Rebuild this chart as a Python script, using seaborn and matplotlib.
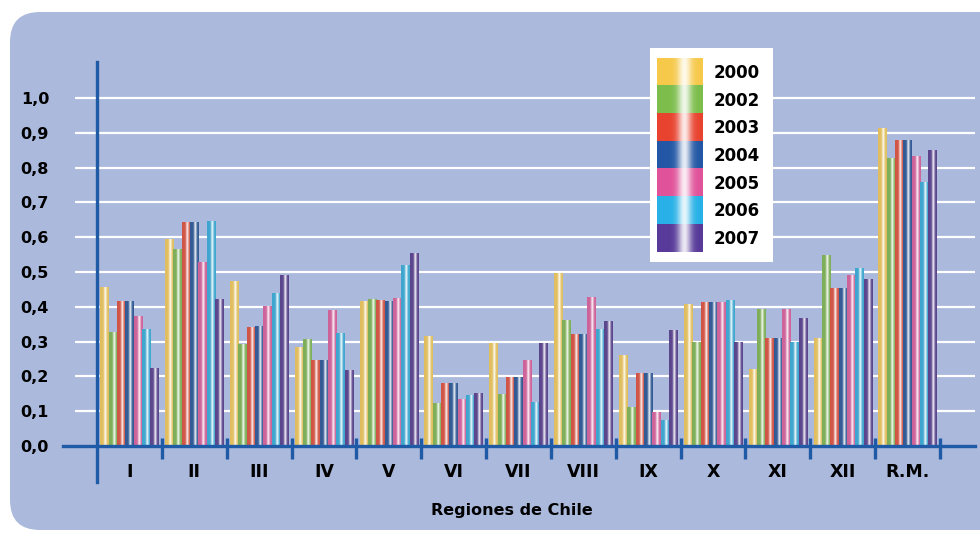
import numpy as np
import pandas as pd
import matplotlib
matplotlib.use("Agg")
import matplotlib.pyplot as plt
import matplotlib.colors as mcolors
import matplotlib.transforms as mtransforms
from matplotlib.patches import FancyBboxPatch
from matplotlib.ticker import FuncFormatter
import seaborn as sns

# ---------------- data ----------------
regions = ["I", "II", "III", "IV", "V", "VI", "VII", "VIII", "IX", "X", "XI", "XII", "R.M."]
years = ["2000", "2002", "2003", "2004", "2005", "2006", "2007"]

v2000 = [0.455, 0.594, 0.473, 0.283, 0.414, 0.316, 0.295, 0.496, 0.259, 0.407, 0.220, 0.309, 0.913]
v2002 = [0.326, 0.564, 0.293, 0.307, 0.420, 0.122, 0.149, 0.362, 0.110, 0.298, 0.393, 0.547, 0.827]
v2003 = [0.415, 0.643, 0.341, 0.247, 0.417, 0.180, 0.197, 0.319, 0.209, 0.412, 0.309, 0.453, 0.877]
v2004 = [0.415, 0.643, 0.344, 0.247, 0.414, 0.180, 0.197, 0.319, 0.209, 0.412, 0.309, 0.453, 0.877]
v2005 = [0.372, 0.528, 0.400, 0.389, 0.425, 0.134, 0.246, 0.426, 0.096, 0.412, 0.393, 0.491, 0.831]
v2006 = [0.336, 0.646, 0.439, 0.323, 0.520, 0.146, 0.125, 0.335, 0.074, 0.418, 0.298, 0.509, 0.757]
v2007 = [0.224, 0.420, 0.490, 0.218, 0.553, 0.152, 0.295, 0.358, 0.331, 0.298, 0.365, 0.477, 0.848]

series = [v2000, v2002, v2003, v2004, v2005, v2006, v2007]
year_colors = ["#f6c94b", "#7cbd4b", "#e8432f", "#2357a5", "#e0529a", "#27b1e6", "#573a99"]

y_ticks = [0.0, 0.1, 0.2, 0.3, 0.4, 0.5, 0.6, 0.7, 0.8, 0.9, 1.0]

df = pd.DataFrame({
    "region": np.tile(regions, len(years)),
    "year": np.repeat(years, len(regions)),
    "value": np.concatenate([np.array(s) for s in series]),
})

# ---------------- style ----------------
BLUE = "#1f5aa6"
PANEL = "#aab9dc"
plt.rcParams["font.family"] = ["DejaVu Sans"]


def gradient(color):
    rgb = np.array(mcolors.to_rgb(color))
    t = np.linspace(0, 1, 60)
    w = 0.88 * np.exp(-((t - 0.6) / 0.15) ** 2)
    img = rgb[None, :] * (1 - w[:, None]) + w[:, None]
    return img[None, :, :]


fig = plt.figure(figsize=(9.8, 5.35), dpi=100)
fig.patch.set_facecolor("white")

panel = FancyBboxPatch((10, 5), 1000, 518,
                       boxstyle="round,pad=0,rounding_size=30",
                       transform=mtransforms.IdentityTransform(),
                       facecolor=PANEL, edgecolor="none", zorder=0)
fig.add_artist(panel)

ax = fig.add_axes([63 / 980, 89 / 535, 912 / 980, 384 / 535])
ax.set_facecolor("none")

sns.barplot(data=df, x="region", y="value", hue="year", order=regions,
            hue_order=years, palette=dict(zip(years, year_colors)),
            width=0.9, errorbar=None, linewidth=0, legend=False, ax=ax,
            zorder=2)

# cylinder-like gradient on every bar
for p in list(ax.patches):
    h = p.get_height()
    if h <= 0:
        continue
    x0, w = p.get_x(), p.get_width()
    ax.imshow(gradient(p.get_facecolor()), extent=(x0, x0 + w, 0, h),
              aspect="auto", interpolation="bilinear", zorder=2.5)

XMIN, XMAX = -1.024, 13.04
ax.set_xlim(XMIN, XMAX)
ax.set_ylim(0, 1.1034)

# gridlines
ax.hlines(y_ticks[1:], -0.839, XMAX, color="white", lw=1.6, zorder=1)

# axes lines
for s in ["top", "right", "left"]:
    ax.spines[s].set_visible(False)
ax.spines["bottom"].set_color(BLUE)
ax.spines["bottom"].set_linewidth(2.4)
ax.spines["bottom"].set_zorder(5)
ax.axvline(-0.5, ymin=-0.094, ymax=1.0, clip_on=False, color=BLUE, lw=2.4, zorder=5)

# group separator ticks crossing the x axis
bounds = np.arange(0.5, len(regions), 1.0)
ax.vlines(bounds, -0.036, 0.024, color=BLUE, lw=2.4, clip_on=False, zorder=5)

ax.set_yticks(y_ticks)
ax.yaxis.set_major_formatter(FuncFormatter(lambda v, _: f"{v:.1f}".replace(".", ",")))
ax.tick_params(axis="y", length=0, pad=10, labelsize=11.5)
for lab in ax.get_yticklabels():
    lab.set_fontweight("bold")

ax.set_xticks(range(len(regions)))
ax.set_xticklabels(regions, fontweight="bold", fontsize=12.5)
ax.tick_params(axis="x", which="both", length=0, pad=12)

ax.set_xlabel("Regiones de Chile", fontweight="bold", fontsize=11.5, va="center")
ax.xaxis.set_label_coords(0.492, -0.167)
ax.set_ylabel("")

# ---------------- legend ----------------
lax = fig.add_axes([650 / 980, (535 - 262) / 535, 123 / 980, 214 / 535])
lax.set_facecolor("white")
lax.set_xticks([])
lax.set_yticks([])
for s in lax.spines.values():
    s.set_visible(False)
row_h = 27.7
for i, (yr, c) in enumerate(zip(years, year_colors)):
    top = 10 + i * row_h
    lax.imshow(gradient(c), extent=(7, 53, top + row_h, top), aspect="auto",
               interpolation="bilinear")
    lax.text(64, top + row_h / 2 + 1, yr, va="center", ha="left",
             fontsize=12, fontweight="bold", color="black")
lax.set_xlim(0, 123)
lax.set_ylim(214, 0)

fig.savefig("out.png", dpi=100, facecolor="white")
